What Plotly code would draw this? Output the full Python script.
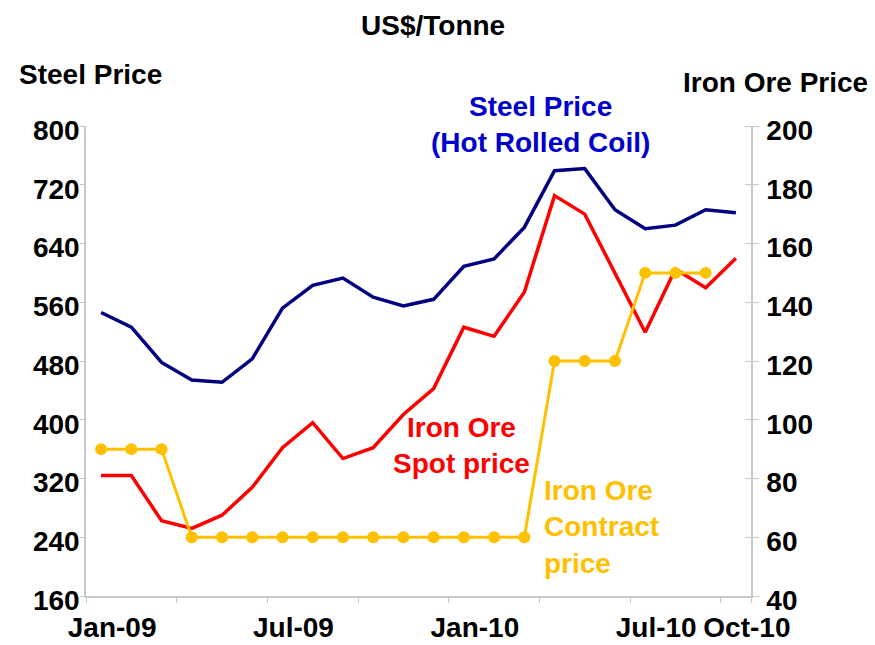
import plotly.graph_objects as go

months = ["Jan-09", "Feb-09", "Mar-09", "Apr-09", "May-09", "Jun-09", "Jul-09", "Aug-09",
          "Sep-09", "Oct-09", "Nov-09", "Dec-09", "Jan-10", "Feb-10", "Mar-10", "Apr-10",
          "May-10", "Jun-10", "Jul-10", "Aug-10", "Sep-10", "Oct-10"]
steel_price = [546, 526, 478, 454, 451, 483, 552, 583, 593, 567, 555, 564,
               609, 619, 662, 739, 742, 686, 660, 665, 686, 682]
spot_price = [81, 81, 65.6, 63, 67.5, 77, 90.5, 99, 86.8, 90.5, 101.8, 110.6,
              131.5, 128.4, 143.4, 176.3, 170, 150, 129.8, 151.3, 144.9, 155]
contract_price = [90, 90, 90, 60, 60, 60, 60, 60, 60, 60, 60, 60,
                  60, 60, 60, 120, 120, 120, 150, 150, 150, None]
label_months = ["Jan-09", "Jul-09", "Jan-10", "Jul-10", "Oct-10"]

x = list(range(len(months)))
FONT = "Arial, Liberation Sans, sans-serif"
GRAY = "#c8c8c8"

fig = go.Figure()
fig.add_trace(go.Scatter(x=x, y=steel_price, mode="lines", line=dict(color="#000080", width=3.5),
                         yaxis="y", showlegend=False))
fig.add_trace(go.Scatter(x=x, y=spot_price, mode="lines", line=dict(color="#FF0000", width=3.5),
                         yaxis="y2", showlegend=False))
fig.add_trace(go.Scatter(x=x, y=contract_price, mode="lines+markers",
                         line=dict(color="#FFC000", width=3),
                         marker=dict(color="#FFC000", size=12),
                         yaxis="y2", showlegend=False))

# page body has an 8px margin; lay out in window pixels and compensate
OFF = 8
L, R, T, B = 86 - OFF, 751 - OFF, 126 - OFF, 596 - OFF
W, H = 875 - OFF, 645 - OFF

def px(xp):
    return (xp - OFF - L) / (R - L)

def py(yp):
    return (B - (yp - OFF)) / (B - T)

def ann(text, xp, yp, color="black", align="center", xanchor="center"):
    fig.add_annotation(text=text, x=px(xp), y=py(yp), xref="paper", yref="paper",
                       showarrow=False, align=align, xanchor=xanchor, yanchor="middle",
                       font=dict(family=FONT, size=28, color=color))

ann("<b>US$/Tonne</b>", 433, 26)
ann("<b>Steel Price</b>", 90, 74)
ann("<b>Iron Ore Price</b>", 775, 82)
ann("<b>Steel Price<br>(Hot Rolled Coil)</b>", 540, 125, color="#0000CC")
ann("<b>Iron Ore<br>Spot price</b>", 461, 445, color="#FF0000")
ann("<b>Iron Ore<br>Contract<br>price</b>", 542, 527, color="#FFC000", align="left", xanchor="left")

tick_idx = [months.index(m) for m in label_months]
bounds = [i - 0.5 for i in range(0, len(months) + 1, 3)] + [len(months) - 0.5]

fig.update_layout(
    width=W, height=H,
    margin=dict(l=L, r=W - R, t=T, b=H - B, autoexpand=False),
    plot_bgcolor="white", paper_bgcolor="white",
    font=dict(family=FONT, size=28, color="black"),
    xaxis=dict(range=[-0.5, len(months) - 0.5], tickvals=tick_idx,
               ticktext=["<b>%s</b>" % m for m in label_months],
               ticks="", showgrid=False, zeroline=False, automargin=False,
               showline=True, linecolor=GRAY, linewidth=1.5,
               ticklabelshift=11, ticklabelstandoff=6,
               tickfont=dict(family=FONT, size=28, color="black"),
               minor=dict(tickvals=bounds, ticks="outside", ticklen=5, tickcolor=GRAY, showgrid=False)),
    yaxis=dict(range=[160, 800], tickvals=list(range(160, 801, 80)),
               ticktext=["<b>%d</b>" % v for v in range(160, 801, 80)],
               ticks="outside", ticklen=4, tickcolor=GRAY, showgrid=False, zeroline=False,
               showline=True, linecolor=GRAY, linewidth=1.5, automargin=False,
               ticklabelshift=4, ticklabelstandoff=-5,
               tickfont=dict(family=FONT, size=28, color="black")),
    yaxis2=dict(range=[40, 200], tickvals=list(range(40, 201, 20)),
                ticktext=["<b>%d</b>" % v for v in range(40, 201, 20)],
                overlaying="y", side="right", automargin=False,
                ticks="outside", ticklen=6, tickcolor=GRAY, showgrid=False, zeroline=False,
                showline=True, linecolor=GRAY, linewidth=1.5,
                ticklabelshift=4, ticklabelstandoff=2,
                tickfont=dict(family=FONT, size=28, color="black"),
                minor=dict(tickvals=list(range(40, 201, 20)), ticks="inside", ticklen=6,
                           tickcolor=GRAY, showgrid=False)),
)

fig.write_html("out.html")
